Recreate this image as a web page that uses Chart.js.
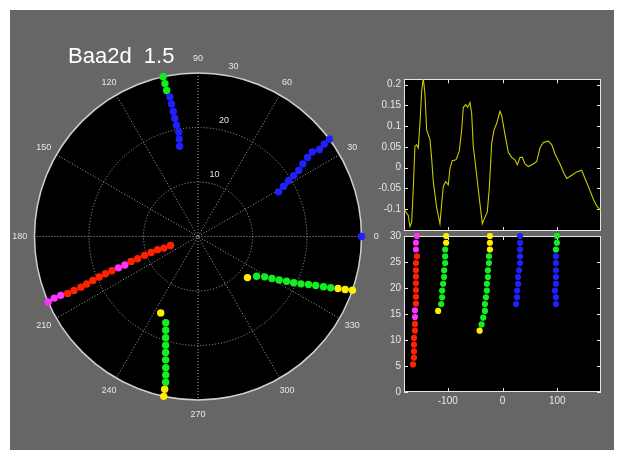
<!DOCTYPE html>
<html>
<head>
<meta charset="utf-8">
<script src="https://cdn.jsdelivr.net/npm/chart.js@4.4.0/dist/chart.umd.min.js"></script>
<style>
  html, body { margin: 0; padding: 0; background: #fff; }
  #fig { position: absolute; left: 10px; top: 10px; width: 604px; height: 440px; background: #666; }
  canvas { position: absolute; }
</style>
</head>
<body>
<div id="fig"></div>
<canvas id="polar" width="400" height="460" style="left:0;top:0"></canvas>
<canvas id="wave" width="250" height="170" style="left:360px;top:70px"></canvas>
<canvas id="dots" width="250" height="190" style="left:360px;top:226px"></canvas>
<script>
const titleText = 'Baa2d  1.5'
const angleLabels = [0, 30, 60, 90, 120, 150, 180, 210, 240, 270, 300, 330]
const ringValues = [10, 20, 30]
const xTicks = [-100, 0, 100]
const waveTicks = [-0.1, -0.05, 0, 0.05, 0.1, 0.15, 0.2]
const dotTicks = [0, 5, 10, 15, 20, 25, 30]

// top right trace
const waveX = [-179.5, -172.2, -169.1, -166.0, -163.0, -160.0, -157.0, -153.9, -150.8, -147.7, -144.8, -141.7, -138.6, -132.5, -129.4, -126.5, -120.3, -114.3, -111.2, -108.2, -103.9, -99.1, -96.0, -91.8, -85.0, -79.0, -74.6, -71.7, -67.3, -63.6, -59.4, -56.3, -53.4, -47.2, -41.1, -36.9, -32.0, -27.8, -24.1, -19.7, -15.5, -10.6, -4.6, -1.5, 4.6, 10.6, 16.8, 22.9, 27.1, 32.0, 36.2, 41.1, 47.2, 56.3, 62.5, 68.6, 74.6, 83.7, 89.9, 96.0, 105.1, 111.2, 117.4, 126.5, 135.6, 144.8, 150.8, 156.9, 166.0, 172.2, 179.5]
const waveY = [-0.101, -0.115, -0.142, -0.131, -0.049, 0.052, 0.055, 0.048, 0.107, 0.184, 0.218, 0.177, 0.091, 0.068, 0.021, -0.033, -0.096, -0.135, -0.088, -0.045, -0.033, -0.041, -0.002, 0.017, 0.019, 0.040, 0.091, 0.145, 0.152, 0.146, 0.157, 0.130, 0.052, -0.018, -0.088, -0.135, -0.119, -0.107, -0.049, 0.060, 0.091, 0.107, 0.136, 0.126, 0.079, 0.037, 0.025, 0.019, 0.007, 0.025, 0.025, 0.009, 0.003, 0.009, 0.015, 0.048, 0.061, 0.064, 0.056, 0.033, 0.009, -0.010, -0.026, -0.018, -0.010, -0.006, -0.026, -0.045, -0.076, -0.092, -0.103]

// dot tracks: r = radius, a = polar angle, x = angle in lower panel, k = phase
const r1 = [30, 28.7, 27.4, 26.1, 24.8, 23.4, 22.2, 20.9, 19.6, 18.3, 17.0, 15.7, 14.4, 13.1, 11.8, 10.4, 9.1, 7.8, 6.6, 5.3]
const a1 = [-156.4, -156.8, -156.8, -156.4, -156.5, -156.6, -156.9, -157.3, -157.7, -158.1, -158.3, -158.5, -158.7, -159.6, -159.8, -160.6, -161.1, -162.0, -161.2, -161.9]
const x1 = [-156.4, -158.2, -158.2, -156.4, -158.2, -158.2, -158.2, -158.2, -158.2, -158.2, -158.2, -160.0, -160.0, -160.0, -160.0, -161.8, -161.8, -161.8, -161.8, -163.6]
const k1 = ['m', 'm', 'm', 'r', 'r', 'r', 'r', 'r', 'r', 'r', 'r', 'm', 'm', 'r', 'r', 'r', 'r', 'r', 'r', 'r']

const r2 = [30, 28.7, 27.4, 26.1, 24.8, 23.4, 22.1, 20.8, 19.5, 18.2, 16.9, 15.6]
const a2 = [-102.1, -102.3, -102.5, -103.1, -103.8, -104.7, -105.6, -106.6, -107.7, -109.0, -110.5, -116.0]
const x2 = [-103.0, -103.0, -104.8, -104.8, -104.8, -106.7, -106.7, -108.5, -110.3, -110.3, -112.1, -117.6]
const k2 = ['y', 'y', 'g', 'g', 'g', 'g', 'g', 'g', 'g', 'g', 'g', 'y']

const r3 = [30, 28.7, 27.4, 26.1, 24.8, 23.4, 22.1, 20.8, 19.5, 18.2, 16.9, 15.6, 14.3, 13.0, 11.8]
const a3 = [-19.2, -19.8, -20.4, -21.1, -21.8, -22.6, -23.5, -24.7, -25.8, -26.8, -28.2, -29.6, -31.2, -34.2, -39.7]
const x3 = [-23.0, -23.0, -23.0, -24.8, -24.8, -26.7, -26.7, -28.5, -28.5, -30.3, -32.1, -32.1, -35.2, -38.2, -41.8]
const k3 = ['y', 'y', 'y', 'g', 'g', 'g', 'g', 'g', 'g', 'g', 'g', 'g', 'g', 'g', 'y']

const r4 = [30, 28.7, 27.4, 26.1, 24.8, 23.4, 22.1, 20.8, 19.5, 18.2, 16.9]
const a4 = [36.5, 36.2, 35.6, 36.5, 35.8, 34.7, 33.2, 32.5, 31.6, 30.4, 29.0]
const x4 = [32.1, 32.1, 32.1, 32.1, 32.1, 30.3, 28.5, 28.5, 26.7, 26.7, 24.8]
const k4 = ['b', 'b', 'b', 'b', 'b', 'b', 'b', 'b', 'b', 'b', 'b']

const r5 = [30, 28.7, 27.4, 26.1, 24.8, 23.4, 22.1, 20.8, 19.5, 18.2, 16.9]
const a5 = [102.3, 102.2, 102.1, 101.4, 101.3, 101.2, 101.1, 100.9, 100.4, 100.9, 101.5]
const x5 = [99.4, 99.4, 97.6, 97.6, 97.6, 97.6, 97.6, 97.6, 95.8, 97.6, 97.6]
const k5 = ['g', 'g', 'g', 'b', 'b', 'b', 'b', 'b', 'b', 'b', 'b']

// lone marker on the polar rim
const edgeR = [30]
const edgeA = [0]
const edgeK = ['b']

const colors = { m: '#ff33ff', r: '#ff2200', g: '#11ee22', b: '#2020ff', y: '#ffee00' }
const tracks = [[r1, a1, x1, k1], [r2, a2, x2, k2], [r3, a3, x3, k3], [r4, a4, x4, k4], [r5, a5, x5, k5]]

Chart.defaults.font.family = "'Liberation Sans', Arial, sans-serif"
Chart.defaults.font.size = 10
Chart.defaults.color = '#e6e6e6'

const rad = d => d * Math.PI / 180

const polarPts = (r, a) => r.map((v, i) => ({ x: v * Math.cos(rad(a[i])), y: v * Math.sin(rad(a[i])) }))

const polarSets = tracks.map(([r, a, x, k]) => ({
  data: polarPts(r, a),
  pointBackgroundColor: k.map(c => colors[c]),
  pointBorderWidth: 0,
  pointRadius: 3.7,
  clip: false
}))
polarSets.push({
  data: polarPts(edgeR, edgeA),
  pointBackgroundColor: edgeK.map(c => colors[c]),
  pointBorderWidth: 0,
  pointRadius: 3.7,
  clip: false
})

const polarGrid = {
  id: 'polarGrid',
  beforeDatasetsDraw(chart) {
    const { ctx, scales: { x, y } } = chart
    const cx = x.getPixelForValue(0), cy = y.getPixelForValue(0)
    const len = v => x.getPixelForValue(v) - cx
    const R = len(30)
    ctx.save()
    ctx.fillStyle = '#000'
    ctx.beginPath(); ctx.arc(cx, cy, R, 0, Math.PI * 2); ctx.fill()

    ctx.strokeStyle = '#a8a8a8'
    ctx.lineWidth = 1
    ctx.setLineDash([1, 2])
    ringValues.slice(0, -1).forEach(v => {
      ctx.beginPath(); ctx.arc(cx, cy, len(v), 0, Math.PI * 2); ctx.stroke()
    })
    angleLabels.slice(0, 6).forEach(a => {
      ctx.beginPath()
      ctx.moveTo(cx + R * Math.cos(rad(a)), cy - R * Math.sin(rad(a)))
      ctx.lineTo(cx - R * Math.cos(rad(a)), cy + R * Math.sin(rad(a)))
      ctx.stroke()
    })
    ctx.setLineDash([])
    ctx.strokeStyle = '#cfcfcf'
    ctx.lineWidth = 1.5
    ctx.beginPath(); ctx.arc(cx, cy, R, 0, Math.PI * 2); ctx.stroke()

    ctx.fillStyle = '#e6e6e6'
    ctx.font = "9px 'Liberation Sans', Arial, sans-serif"
    ctx.textAlign = 'center'
    ctx.textBaseline = 'middle'
    angleLabels.forEach(a => {
      ctx.fillText(String(a), cx + R * 1.09 * Math.cos(rad(a)), cy - R * 1.09 * Math.sin(rad(a)))
    })
    ctx.textAlign = 'left'
    ctx.textBaseline = 'bottom'
    ringValues.forEach(v => {
      ctx.fillText(String(v), cx + len(v) * Math.cos(rad(80)) + 2, cy - len(v) * Math.sin(rad(80)) - 4)
    })
    ctx.restore()
  },
  afterDraw(chart) {
    const ctx = chart.ctx
    ctx.save()
    ctx.fillStyle = '#ffffff'
    ctx.font = "22px 'Liberation Sans', Arial, sans-serif"
    ctx.textBaseline = 'alphabetic'
    ctx.fillText(titleText, 68, 63)
    ctx.restore()
  }
}

new Chart(document.getElementById('polar'), {
  type: 'scatter',
  data: { datasets: polarSets },
  options: {
    animation: false,
    responsive: false,
    layout: { padding: { left: 34.5, right: 38.5, top: 73, bottom: 60 } },
    plugins: { legend: { display: false }, tooltip: { enabled: false } },
    scales: {
      x: { min: -30, max: 30, display: false },
      y: { min: -30, max: 30, display: false }
    }
  },
  plugins: [polarGrid]
})

// black box, white frame and inward tick marks for the right panels
const makeFrame = (xt, yt) => ({
  id: 'frame',
  beforeDatasetsDraw(chart) {
    const { ctx, chartArea: a, scales: { x, y } } = chart
    ctx.save()
    ctx.fillStyle = '#000'
    ctx.fillRect(a.left, a.top, a.right - a.left, a.bottom - a.top)
    ctx.strokeStyle = '#e8e8e8'
    ctx.lineWidth = 1
    ctx.beginPath()
    xt.forEach(v => {
      const px = Math.round(x.getPixelForValue(v)) + 0.5
      ctx.moveTo(px, a.top); ctx.lineTo(px, a.top + 4)
      ctx.moveTo(px, a.bottom); ctx.lineTo(px, a.bottom - 4)
    })
    yt.forEach(v => {
      const py = Math.round(y.getPixelForValue(v)) + 0.5
      ctx.moveTo(a.left, py); ctx.lineTo(a.left + 4, py)
      ctx.moveTo(a.right, py); ctx.lineTo(a.right - 4, py)
    })
    ctx.stroke()
    ctx.strokeRect(Math.round(a.left) + 0.5, Math.round(a.top) + 0.5, Math.round(a.right - a.left) - 1, Math.round(a.bottom - a.top) - 1)
    ctx.restore()
  }
})

const yAxis = (min, max, list, fmt) => ({
  min: min,
  max: max,
  afterBuildTicks: s => { s.ticks = list.map(v => ({ value: v })) },
  afterFit: s => { s.width = 44 },
  grid: { display: false, drawTicks: false },
  border: { display: false },
  ticks: { padding: 3, color: '#e6e6e6', callback: fmt }
})

new Chart(document.getElementById('wave'), {
  type: 'scatter',
  data: {
    datasets: [{
      data: waveX.map((v, i) => ({ x: v, y: waveY[i] })),
      showLine: true,
      borderColor: '#caca00',
      borderWidth: 1.1,
      pointRadius: 0
    }]
  },
  options: {
    animation: false,
    responsive: false,
    layout: { padding: { left: 0, right: 9, top: 9.3, bottom: 4 } },
    plugins: { legend: { display: false }, tooltip: { enabled: false } },
    scales: {
      x: { type: 'linear', min: -180, max: 180, display: false },
      y: yAxis(-0.1524, 0.2131, waveTicks, v => String(v))
    }
  },
  plugins: [makeFrame(xTicks, waveTicks)]
})

const dotSets = tracks.map(([r, a, x, k]) => ({
  data: x.map((v, i) => ({ x: v, y: r[i] })),
  pointBackgroundColor: k.map(c => colors[c]),
  pointBorderWidth: 0,
  pointRadius: 3.1,
  clip: false
}))

new Chart(document.getElementById('dots'), {
  type: 'scatter',
  data: { datasets: dotSets },
  options: {
    animation: false,
    responsive: false,
    layout: { padding: { left: 0, right: 9, top: 10, bottom: 4 } },
    plugins: { legend: { display: false }, tooltip: { enabled: false } },
    scales: {
      x: {
        min: -180,
        max: 180,
        afterBuildTicks: s => { s.ticks = xTicks.map(v => ({ value: v })) },
        afterFit: s => { s.height = 20 },
        grid: { display: false, drawTicks: false },
        border: { display: false },
        ticks: { padding: 3, color: '#e6e6e6', maxRotation: 0, autoSkip: false, callback: v => String(v) }
      },
      y: yAxis(0, 30, dotTicks, v => String(v))
    }
  },
  plugins: [makeFrame(xTicks, dotTicks)]
})
</script>
</body>
</html>
